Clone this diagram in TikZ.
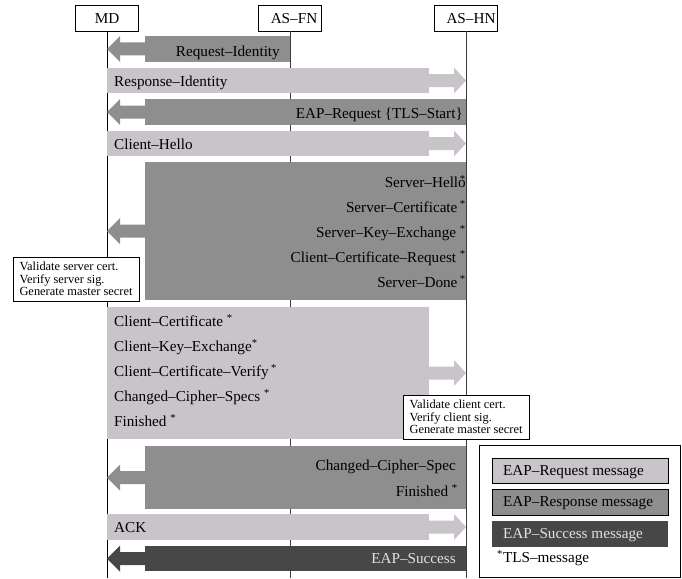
\documentclass[tikz,border=0pt]{standalone}
\usepackage{fontspec}
\setmainfont{Liberation Serif}
\usetikzlibrary{fit}
\definecolor{lightc}{RGB}{201,196,201}
\definecolor{medc}{RGB}{142,142,142}
\definecolor{darkc}{RGB}{71,71,71}
\definecolor{lifec}{RGB}{60,60,60}
\definecolor{palec}{RGB}{225,225,225}
\newcommand{\fmain}{\fontsize{15.2}{18}\selectfont}
\newcommand{\fsmall}{\fontsize{12.4}{12.5}\selectfont}
\newcommand{\tstar}{\textsuperscript{*}}
\newcommand{\arrL}[2]{\fill[#2] ([xshift=1pt]#1.west) ++(0,-6.5) -- ++(-26,0) -- ++(0,-6.5) -- ++(-13,13) -- ++(13,13) -- ++(0,-6.5) -- ++(26,0) -- cycle;}
\newcommand{\arrR}[2]{\fill[#2] ([xshift=-1pt]#1.east) ++(0,-6.5) -- ++(26,0) -- ++(0,-6.5) -- ++(12,13) -- ++(-12,13) -- ++(0,-6.5) -- ++(-26,0) -- cycle;}
\begin{document}
\begin{tikzpicture}[x=1pt,y=-1pt, font=\fmain,
  hdr/.style={draw=black, line width=0.9pt, fill=white, minimum width=63pt, minimum height=26pt, inner sep=0},
  body/.style={fill=#1, inner sep=0, outer sep=0},
  lbl/.style={inner sep=0, text=black, yshift=-2.5pt},
  htxt/.style={inner sep=0, text=black},
  note/.style={draw=black, line width=0.8pt, fill=white, font=\fsmall, align=left, inner xsep=6.5pt, minimum height=44pt, inner ysep=0},
  legbox/.style={inner sep=0, outer sep=0, line width=0.8pt},
  life/.style={line width=0.9pt, draw=lifec}]
\useasboundingbox (0,0) rectangle (682,578);
% headers
\node[hdr] (md) at (107,18) {};
\node[hdr] (fn) at (290,18) {};
\node[hdr] (hn) at (466,18) {};
\node[htxt] (mdt) at (107,18.5) {MD};
\node[htxt] (fnt) at (294,18.5) {AS--FN};
\node[htxt] (hnt) at (471,18.5) {AS--HN};
\coordinate (mdend) at (107,578);
\coordinate (fnend) at (290,578);
\coordinate (hnend) at (466,578);
\draw[life, draw=black] (md.south) -- (mdend);
\draw[life] (fn.south) -- (fnend);
\draw[life] (hn.south) -- (hnend);
% 1
\node[body=medc, fit={(145,36) (290,62)}] (m1) {};
\arrL{m1}{medc}
\node[lbl, anchor=mid east] (t1) at (280,52) {Request--Identity};
% 2
\node[body=lightc, fit={(107,68) (429,93)}] (m2) {};
\arrR{m2}{lightc}
\node[lbl, anchor=mid west] (t2) at (114,82) {Response--Identity};
% 3
\node[body=medc, fit={(145,99) (466,125)}] (m3) {};
\arrL{m3}{medc}
\node[lbl, anchor=mid east] (t3) at (463,114) {EAP--Request \{TLS--Start\}};
% 4
\node[body=lightc, fit={(107,131) (429,156)}] (m4) {};
\arrR{m4}{lightc}
\node[lbl, anchor=mid west] (t4) at (114,145) {Client--Hello};
% 5
\node[body=medc, fit={(145,162) (466,300)}] (m5) {};
\arrL{m5}{medc}
\node[lbl, anchor=mid east] (s1) at (466,183) {Server--Hello\llap{\tstar}};
\node[lbl, anchor=mid east] (s2) at (466,208) {Server--Certificate\,\tstar};
\node[lbl, anchor=mid east] (s3) at (466,233) {Server--Key--Exchange\ \tstar};
\node[lbl, anchor=mid east] (s4) at (466,258) {Client--Certificate--Request\ \tstar};
\node[lbl, anchor=mid east] (s5) at (466,283) {Server--Done\,\tstar};
\node[note] (v1) at (76,279) {Validate server cert.\\Verify server sig.\\Generate master secret};
% 6
\node[body=lightc, fit={(107,307) (429,439)}] (m6) {};
\arrR{m6}{lightc}
\node[lbl, anchor=mid west] (c1) at (114,322) {Client--Certificate\ \tstar};
\node[lbl, anchor=mid west] (c2) at (114,347) {Client--Key--Exchange\tstar};
\node[lbl, anchor=mid west] (c3) at (114,372) {Client--Certificate--Verify\,\tstar};
\node[lbl, anchor=mid west] (c4) at (114,397) {Changed--Cipher--Specs\ \tstar};
\node[lbl, anchor=mid west] (c5) at (114,422) {Finished\ \tstar};
\node[note] (v2) at (466,417) {Validate client cert.\\Verify client sig.\\Generate master secret};
% 7
\node[body=medc, fit={(145,446) (466,509)}] (m7) {};
\arrL{m7}{medc}
\node[lbl, anchor=mid east] (f1) at (456,466) {Changed--Cipher--Spec};
\node[lbl, anchor=mid east] (f2) at (458,492) {Finished\ \tstar};
% 8
\node[body=lightc, fit={(107,514) (429,540)}] (m8) {};
\arrR{m8}{lightc}
\node[lbl, anchor=mid west] (t8) at (114,528) {ACK};
% 9
\node[body=darkc, fit={(145,546) (466,571)}] (m9) {};
\arrL{m9}{darkc}
\node[lbl, anchor=mid east, text=palec] (t9) at (456,559) {EAP--Success};
% legend
\node[legbox, draw=black, fill=white, fit={(479,445) (680,577)}] (leg) {};
\node[legbox, draw=black, fill=lightc, fit={(492,458) (668,483)}] (l1) {};
\node[legbox, draw=black, fill=medc, fit={(492,489) (668,515)}] (l2) {};
\node[legbox, fill=darkc, fit={(492,521) (668,547)}] (l3) {};
\node[lbl, anchor=mid west] (lt1) at (503,471) {EAP--Request message};
\node[lbl, anchor=mid west] (lt2) at (503,502) {EAP--Response message};
\node[lbl, anchor=mid west, text=palec] (lt3) at (503,534) {EAP--Success message};
\node[lbl, anchor=mid west] (lt4) at (497,558) {\tstar TLS--message};
\end{tikzpicture}
\end{document}
